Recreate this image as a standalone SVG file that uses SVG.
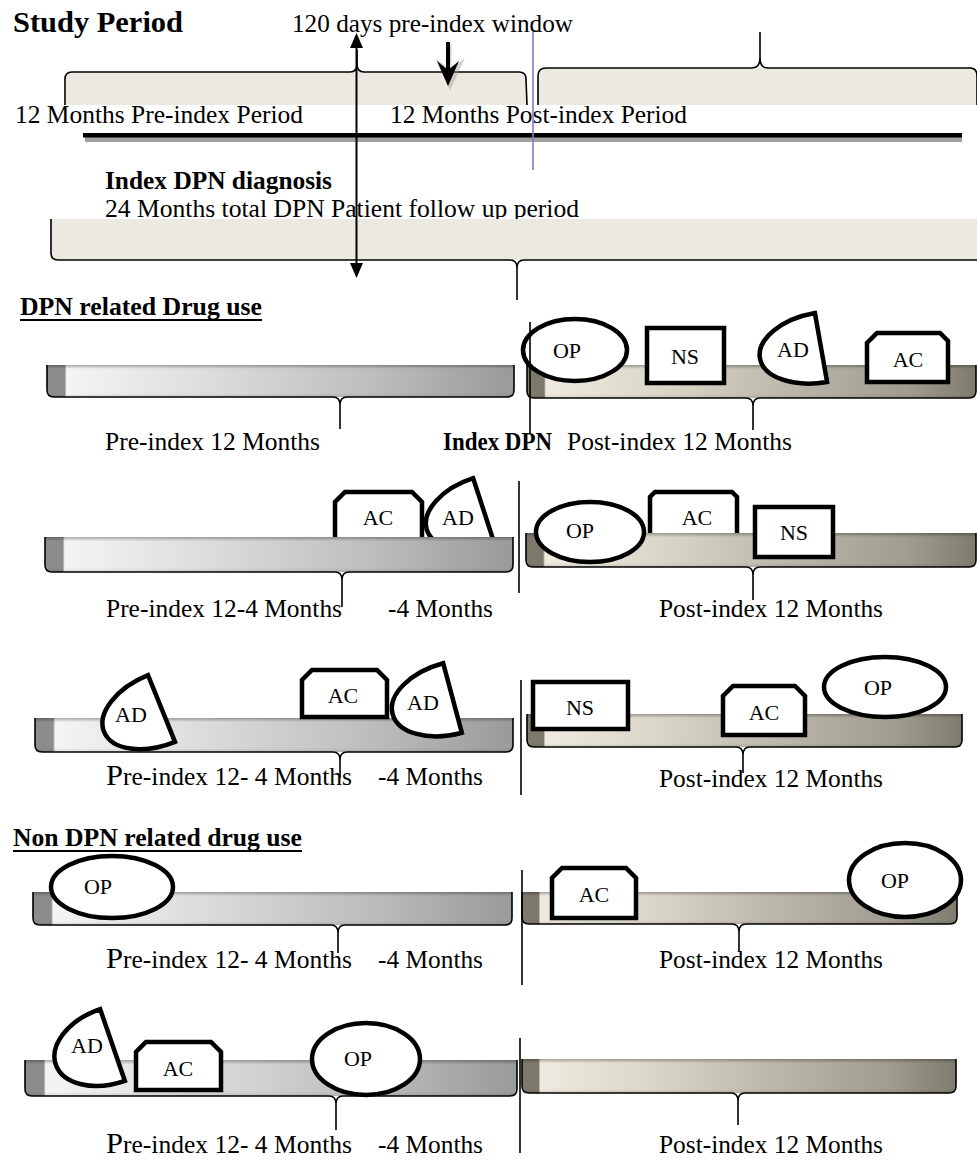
<svg xmlns="http://www.w3.org/2000/svg" width="977" height="1165" viewBox="0 0 977 1165">
<defs>
<style>
text { font-family: "Liberation Serif", "Times New Roman", serif; fill:#000; }
.lbl { font-size:25px; }
.b { font-weight:bold; }
.sh { font-size:22px; text-anchor:middle; }
.brace { fill:none; stroke:#000; stroke-width:1.6; }
.shape { fill:#fff; stroke:#000; stroke-width:4.5; stroke-linejoin:miter; }
.div { stroke:#000; stroke-width:1.6; }
.beige { fill:#ECE9E0; }
.gl { fill:url(#gL); }
.gr { fill:url(#gR); }
.gv { fill:url(#gV); }
</style>
<linearGradient id="gL" x1="0" x2="1" y1="0" y2="0">
<stop offset="0" stop-color="#8C8C8C"/>
<stop offset="0.038" stop-color="#8C8C8C"/>
<stop offset="0.042" stop-color="#F4F4F4"/>
<stop offset="0.35" stop-color="#DCDCDC"/>
<stop offset="0.7" stop-color="#BDBDBD"/>
<stop offset="1" stop-color="#9A9A9A"/>
</linearGradient>
<linearGradient id="gR" x1="0" x2="1" y1="0" y2="0">
<stop offset="0" stop-color="#7D796B"/>
<stop offset="0.038" stop-color="#7D796B"/>
<stop offset="0.042" stop-color="#EEEADF"/>
<stop offset="0.3" stop-color="#DAD6C8"/>
<stop offset="0.6" stop-color="#B9B5A9"/>
<stop offset="0.85" stop-color="#A09C90"/>
<stop offset="1" stop-color="#7E7C6E"/>
</linearGradient>
<linearGradient id="gV" x1="0" x2="0" y1="0" y2="1">
<stop offset="0" stop-color="#000" stop-opacity="0.3"/>
<stop offset="0.12" stop-color="#000" stop-opacity="0"/>
<stop offset="0.88" stop-color="#000" stop-opacity="0"/>
<stop offset="1" stop-color="#000" stop-opacity="0.1"/>
</linearGradient>
</defs>
<rect width="977" height="1165" fill="#fff"/>

<!-- Header / study period -->
<g id="header">
<path class="beige" d="M65 105 L65 79 Q65 72 72 72 L519 72 Q526 72 526 79 L527 105 Z"/>
<path class="brace" d="M65 105 L65 79 Q65 72 72 72 L350 72 Q357 72 357 64 L357 50 M357 64 Q357 72 364 72 L519 72 Q526 72 526 79 L527 105"/>
<path class="beige" d="M538 105 L538 76 Q538 68 546 68 L970 68 Q977 68 977 76 L977 105 Z"/>
<path class="brace" d="M538 105 L538 76 Q538 68 546 68 L752 68 Q760 68 760 58 L760 32 M760 58 Q760 68 768 68 L970 68 Q977 68 977 76 L977 105"/>
<text x="13" y="32" class="b" font-size="30" textLength="170" lengthAdjust="spacingAndGlyphs">Study Period</text>
<text x="292" y="32" class="lbl" textLength="281" lengthAdjust="spacingAndGlyphs">120 days pre-index window</text>
<text x="15" y="123" class="lbl" textLength="288" lengthAdjust="spacingAndGlyphs">12 Months Pre-index Period</text>
<text x="390" y="123" class="lbl" textLength="297" lengthAdjust="spacingAndGlyphs">12 Months Post-index Period</text>
<rect x="85" y="137" width="877" height="5" fill="#A0A0A0"/>
<rect x="83" y="133" width="879" height="4.5" fill="#000"/>
<line x1="533" y1="32" x2="533" y2="170" stroke="#8A7AB8" stroke-width="1.6"/>
<g id="arrow120">
<path d="M450 44 L450 72 M439 63 L450 87 L461 63 L450 71 Z" fill="#999" stroke="#999" stroke-width="3" opacity="0.4"/>
<line x1="448" y1="42" x2="448" y2="72" stroke="#000" stroke-width="4"/>
<polygon points="437,61 448,86 459,61 448,70" fill="#000"/>
</g>
<text x="105" y="189" class="lbl b" textLength="227" lengthAdjust="spacingAndGlyphs">Index DPN diagnosis</text>
<text x="105" y="217" class="lbl" textLength="474" lengthAdjust="spacingAndGlyphs">24 Months total DPN Patient follow up period</text>
<path class="beige" d="M51 219 L51 253 Q51 260 58 260 L985 260 L985 219 Z"/>
<path class="brace" d="M51 219 L51 253 Q51 260 58 260 L510 260 Q517 260 517 268 L517 300 M517 268 Q517 260 524 260 L985 260"/>
<g id="indexArrow">
<line x1="356.5" y1="45" x2="356.5" y2="265" stroke="#000" stroke-width="2"/>
<polygon points="356.5,33 350,48 363,48" fill="#000"/>
<polygon points="356.5,278 350,263 363,263" fill="#000"/>
</g>
</g>

<!-- DPN related drug use -->
<text x="20" y="315" class="lbl b" textLength="242" lengthAdjust="spacingAndGlyphs">DPN related Drug use</text>
<line x1="20" y1="320" x2="262" y2="320" stroke="#000" stroke-width="2"/>

<!-- Row 1 -->
<g id="row1">
<path class="gl" d="M47 365 L47 390 Q47 397 54 397 L507 397 Q514 397 514 390 L514 365 Z"/>
<path class="gv" d="M47 365 L47 390 Q47 397 54 397 L507 397 Q514 397 514 390 L514 365 Z"/>
<path class="brace" d="M47 365 L47 390 Q47 397 54 397 L333 397 Q340 397 340 405 L340 429 M340 405 Q340 397 347 397 L507 397 Q514 397 514 390 L514 365"/>
<path class="gr" d="M527 365 L527 391 Q527 398 534 398 L969 398 Q976 398 976 391 L976 365 Z"/>
<path class="gv" d="M527 365 L527 391 Q527 398 534 398 L969 398 Q976 398 976 391 L976 365 Z"/>
<path class="brace" d="M527 365 L527 391 Q527 398 534 398 L746 398 Q753 398 753 406 L753 430 M753 406 Q753 398 760 398 L969 398 Q976 398 976 391 L976 365"/>
<g id="r1-op"><ellipse class="shape" cx="575" cy="350" rx="52" ry="31"/><text class="sh" x="567" y="358">OP</text></g>
<g id="r1-ns"><rect class="shape" x="647" y="328" width="77" height="55"/><text class="sh" x="685" y="364">NS</text></g>
<g id="r1-ad"><path class="shape" transform="translate(821 347.5) rotate(-10)" d="M0 35 A62 35 0 0 1 0 -35 Z"/><text class="sh" x="793" y="357">AD</text></g>
<g id="r1-ac"><path class="shape" d="M867 382 L867 343 L877 333 L940 333 L948 341 L948 382 Z"/><text class="sh" x="908" y="367">AC</text></g>
<line class="div" x1="530" y1="322" x2="530" y2="433"/>
<text x="105" y="450" class="lbl" textLength="215" lengthAdjust="spacingAndGlyphs">Pre-index 12 Months</text>
<text x="443" y="450" class="lbl b" textLength="109" lengthAdjust="spacingAndGlyphs">Index DPN</text>
<text x="567" y="450" class="lbl" textLength="225" lengthAdjust="spacingAndGlyphs">Post-index 12 Months</text>
</g>

<!-- Row 2 -->
<g id="row2">
<g id="r2-ac1"><path class="shape" d="M335 548 L335 502 L345 492 L412 492 L422 502 L422 548 Z"/></g>
<g id="r2-ad1"><path class="shape" transform="translate(484 511.5) rotate(-18)" d="M0 35 A60 35 0 0 1 0 -35 Z"/></g>
<g id="r2-ac2"><path class="shape" d="M650 545 L650 497 L655 492 L732 492 L737 497 L737 545 Z"/></g>
<path class="gl" d="M45 537 L45 565 Q45 572 52 572 L506 572 Q513 572 513 565 L513 537 Z"/>
<path class="gv" d="M45 537 L45 565 Q45 572 52 572 L506 572 Q513 572 513 565 L513 537 Z"/>
<path class="brace" d="M45 537 L45 565 Q45 572 52 572 L335 572 Q342 572 342 580 L342 607 M342 580 Q342 572 349 572 L506 572 Q513 572 513 565 L513 537"/>
<path class="gr" d="M526 533 L526 560 Q526 567 533 567 L969 567 Q976 567 976 560 L976 533 Z"/>
<path class="gv" d="M526 533 L526 560 Q526 567 533 567 L969 567 Q976 567 976 560 L976 533 Z"/>
<path class="brace" d="M526 533 L526 560 Q526 567 533 567 L746 567 Q753 567 753 575 L753 600 M753 575 Q753 567 760 567 L969 567 Q976 567 976 560 L976 533"/>
<text class="sh" x="378" y="525">AC</text>
<text class="sh" x="458" y="525">AD</text>
<text class="sh" x="697" y="525">AC</text>
<g id="r2-op"><ellipse class="shape" cx="590" cy="532" rx="54" ry="30"/><text class="sh" x="580" y="538">OP</text></g>
<g id="r2-ns"><rect class="shape" x="755" y="507" width="78" height="50"/><text class="sh" x="794" y="540">NS</text></g>
<line class="div" x1="519" y1="481" x2="519" y2="593"/>
<text x="106" y="617" class="lbl" textLength="236" lengthAdjust="spacingAndGlyphs">Pre-index 12-4 Months</text>
<text x="388" y="617" class="lbl" textLength="105" lengthAdjust="spacingAndGlyphs">-4 Months</text>
<text x="659" y="617" class="lbl" textLength="224" lengthAdjust="spacingAndGlyphs">Post-index 12 Months</text>
</g>

<!-- Row 3 -->
<g id="row3">
<path class="gl" d="M35 718 L35 745 Q35 752 42 752 L506 752 Q513 752 513 745 L513 718 Z"/>
<path class="gv" d="M35 718 L35 745 Q35 752 42 752 L506 752 Q513 752 513 745 L513 718 Z"/>
<path class="brace" d="M35 718 L35 745 Q35 752 42 752 L333 752 Q340 752 340 760 L340 778 M340 760 Q340 752 347 752 L506 752 Q513 752 513 745 L513 718"/>
<path class="gr" d="M527 714 L527 740 Q527 747 534 747 L955 747 Q962 747 962 740 L962 714 Z"/>
<path class="gv" d="M527 714 L527 740 Q527 747 534 747 L955 747 Q962 747 962 740 L962 714 Z"/>
<path class="brace" d="M527 714 L527 740 Q527 747 534 747 L736 747 Q743 747 743 755 L743 773 M743 755 Q743 747 750 747 L955 747 Q962 747 962 740 L962 714"/>
<g id="r3-ad1"><path class="shape" transform="translate(161.5 708.5) rotate(-22)" d="M0 36 A62 36 0 0 1 0 -36 Z"/><text class="sh" x="131" y="722">AD</text></g>
<g id="r3-ac"><path class="shape" d="M302 717 L302 680 L312 670 L377 670 L387 680 L387 717 Z"/><text class="sh" x="343" y="703">AC</text></g>
<g id="r3-ad2"><path class="shape" transform="translate(452.5 698) rotate(-15)" d="M0 36 A62 36 0 0 1 0 -36 Z"/><text class="sh" x="423" y="710">AD</text></g>
<g id="r3-ns"><rect class="shape" x="533" y="682" width="95" height="47"/><text class="sh" x="580" y="715">NS</text></g>
<g id="r3-ac2"><path class="shape" d="M723 735 L723 696 L733 686 L795 686 L805 696 L805 735 Z"/><text class="sh" x="764" y="720">AC</text></g>
<g id="r3-op"><ellipse class="shape" cx="885" cy="687" rx="61" ry="30"/><text class="sh" x="878" y="695">OP</text></g>
<line class="div" x1="521" y1="680" x2="521" y2="795"/>
<text x="106" y="785" class="lbl" textLength="246" lengthAdjust="spacingAndGlyphs"><tspan font-size="30">P</tspan>re-index 12- 4 Months</text>
<text x="378" y="785" class="lbl" textLength="105" lengthAdjust="spacingAndGlyphs">-4 Months</text>
<text x="659" y="787" class="lbl" textLength="224" lengthAdjust="spacingAndGlyphs">Post-index 12 Months</text>
</g>

<!-- Non DPN related drug use -->
<text x="13" y="846" class="lbl b" textLength="289" lengthAdjust="spacingAndGlyphs">Non DPN related drug use</text>
<line x1="13" y1="851" x2="302" y2="851" stroke="#000" stroke-width="2"/>

<!-- Row 4 -->
<g id="row4">
<path class="gl" d="M33 892 L33 918 Q33 925 40 925 L505 925 Q512 925 512 918 L512 892 Z"/>
<path class="gv" d="M33 892 L33 918 Q33 925 40 925 L505 925 Q512 925 512 918 L512 892 Z"/>
<path class="brace" d="M33 892 L33 918 Q33 925 40 925 L331 925 Q338 925 338 933 L338 953 M338 933 Q338 925 345 925 L505 925 Q512 925 512 918 L512 892"/>
<path class="gr" d="M522 892 L522 917 Q522 924 529 924 L950 924 Q957 924 957 917 L957 892 Z"/>
<path class="gv" d="M522 892 L522 917 Q522 924 529 924 L950 924 Q957 924 957 917 L957 892 Z"/>
<path class="brace" d="M522 892 L522 917 Q522 924 529 924 L732 924 Q739 924 739 932 L739 952 M739 932 Q739 924 746 924 L950 924 Q957 924 957 917 L957 892"/>
<g id="r4-op1"><ellipse class="shape" cx="112" cy="887" rx="61" ry="31"/><text class="sh" x="98" y="894">OP</text></g>
<g id="r4-ac"><path class="shape" d="M552 918 L552 878 L562 868 L626 868 L636 878 L636 918 Z"/><text class="sh" x="594" y="902">AC</text></g>
<g id="r4-op2"><ellipse class="shape" cx="905" cy="880" rx="56" ry="37"/><text class="sh" x="895" y="888">OP</text></g>
<line class="div" x1="522" y1="870" x2="522" y2="985"/>
<text x="106" y="968" class="lbl" textLength="246" lengthAdjust="spacingAndGlyphs"><tspan font-size="30">P</tspan>re-index 12- 4 Months</text>
<text x="378" y="968" class="lbl" textLength="105" lengthAdjust="spacingAndGlyphs">-4 Months</text>
<text x="659" y="968" class="lbl" textLength="224" lengthAdjust="spacingAndGlyphs">Post-index 12 Months</text>
</g>

<!-- Row 5 -->
<g id="row5">
<path class="gl" d="M25 1060 L25 1089 Q25 1096 32 1096 L510 1096 Q517 1096 517 1089 L517 1060 Z"/>
<path class="gv" d="M25 1060 L25 1089 Q25 1096 32 1096 L510 1096 Q517 1096 517 1089 L517 1060 Z"/>
<path class="brace" d="M25 1060 L25 1089 Q25 1096 32 1096 L329 1096 Q336 1096 336 1104 L336 1130 M336 1104 Q336 1096 343 1096 L510 1096 Q517 1096 517 1089 L517 1060"/>
<path class="gr" d="M522 1059 L522 1086 Q522 1093 529 1093 L949 1093 Q956 1093 956 1086 L956 1059 Z"/>
<path class="gv" d="M522 1059 L522 1086 Q522 1093 529 1093 L949 1093 Q956 1093 956 1086 L956 1059 Z"/>
<path class="brace" d="M522 1059 L522 1086 Q522 1093 529 1093 L731 1093 Q738 1093 738 1101 L738 1125 M738 1101 Q738 1093 745 1093 L949 1093 Q956 1093 956 1086 L956 1059"/>
<g id="r5-ad"><path class="shape" transform="translate(112.5 1045) rotate(-19)" d="M0 38 A60 38 0 0 1 0 -38 Z"/><text class="sh" x="87" y="1053">AD</text></g>
<g id="r5-ac"><path class="shape" d="M136 1090 L136 1052 L146 1042 L211 1042 L221 1052 L221 1090 Z"/><text class="sh" x="178" y="1076">AC</text></g>
<g id="r5-op"><ellipse class="shape" cx="366" cy="1059" rx="54" ry="36"/><text class="sh" x="358" y="1066">OP</text></g>
<line class="div" x1="520" y1="1038" x2="520" y2="1153"/>
<text x="106" y="1153" class="lbl" textLength="246" lengthAdjust="spacingAndGlyphs"><tspan font-size="30">P</tspan>re-index 12- 4 Months</text>
<text x="378" y="1153" class="lbl" textLength="105" lengthAdjust="spacingAndGlyphs">-4 Months</text>
<text x="659" y="1153" class="lbl" textLength="224" lengthAdjust="spacingAndGlyphs">Post-index 12 Months</text>
</g>
</svg>
